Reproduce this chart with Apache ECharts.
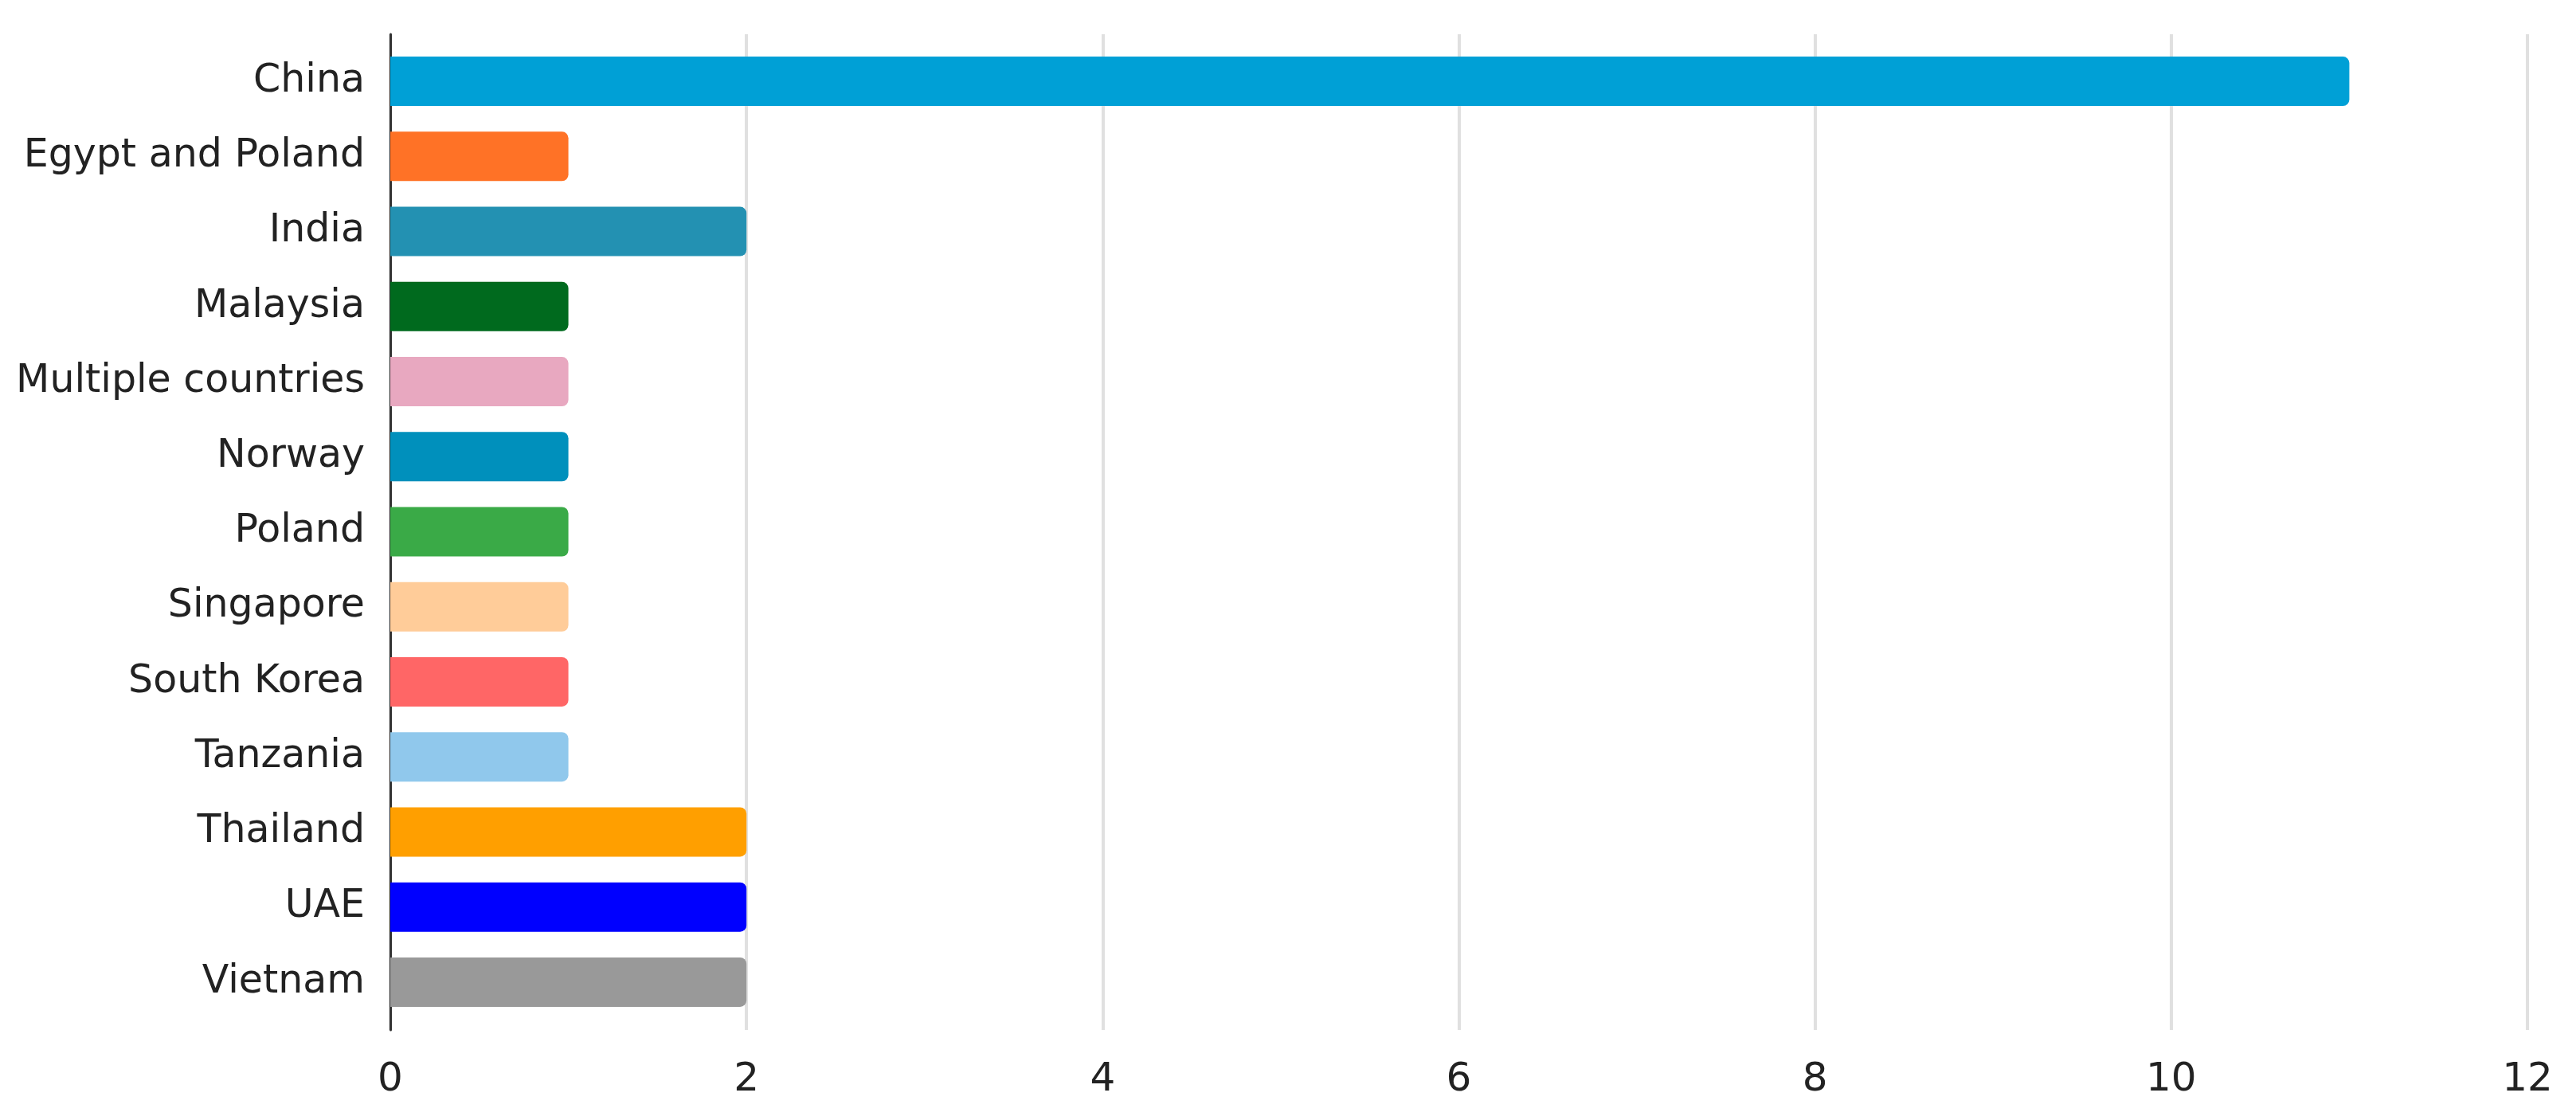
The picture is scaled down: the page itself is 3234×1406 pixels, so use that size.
<!DOCTYPE html>
<html>
<head>
<meta charset="utf-8">
<script src="https://cdn.jsdelivr.net/npm/echarts@6/dist/echarts.min.js"></script>
<style>
    html, body { margin: 0; padding: 0; background: #fff; }
    #chart { width: 3234px; height: 1406px; }
</style>
</head>
<body>
<div id="chart"></div>
<script>
const categories = ['China', 'Egypt and Poland', 'India', 'Malaysia', 'Multiple countries', 'Norway',
    'Poland', 'Singapore', 'South Korea', 'Tanzania', 'Thailand', 'UAE', 'Vietnam']
const counts = [11, 1, 2, 1, 1, 1, 1, 1, 1, 1, 2, 2, 2]
const barColors = ['#00a0d6', '#ff7226', '#2391b2', '#006a1e', '#e8a8c0', '#0090bc',
    '#3aaa47', '#ffcc99', '#ff6666', '#90c8ec', '#ff9f00', '#0000ff', '#999999']
const xTicks = [0, 2, 4, 6, 8, 10, 12]

const font = 'DejaVu Sans'
const chart = echarts.init(document.getElementById('chart'))

chart.setOption({
    animation: false,
    backgroundColor: '#fff',
    grid: [
        // frame: grid lines + left axis line
        {left: 490, right: 61, top: 43, bottom: 113},
        // bars, a bit inset from the frame
        {left: 490, right: 61, top: 55, bottom: 126}
    ],
    xAxis: [
        {
            gridIndex: 0,
            type: 'value',
            min: xTicks[0],
            max: xTicks[xTicks.length - 1],
            interval: 2,
            axisLine: {show: false},
            axisTick: {show: false},
            splitLine: {show: true, lineStyle: {color: '#e0e0e0', width: 4}},
            axisLabel: {
                fontFamily: font,
                fontSize: 50,
                color: '#222',
                margin: 38,
                showMaxLabel: true
            }
        },
        {
            gridIndex: 1,
            type: 'value',
            min: xTicks[0],
            max: xTicks[xTicks.length - 1],
            show: false
        }
    ],
    yAxis: [
        {
            gridIndex: 0,
            type: 'value',
            axisLine: {show: true, lineStyle: {color: '#333', width: 3}},
            axisTick: {show: false},
            axisLabel: {show: false},
            splitLine: {show: false}
        },
        {
            gridIndex: 1,
            type: 'category',
            inverse: true,
            data: categories,
            axisLine: {show: false},
            axisTick: {show: false},
            axisLabel: {
                fontFamily: font,
                fontSize: 49,
                color: '#222',
                margin: 32
            }
        }
    ],
    series: [
        {
            type: 'bar',
            xAxisIndex: 1,
            yAxisIndex: 1,
            barWidth: 62,
            data: counts.map((v, i) => ({
                value: v,
                itemStyle: {color: barColors[i], borderRadius: [0, 8, 8, 0]}
            }))
        }
    ]
})
</script>
</body>
</html>
